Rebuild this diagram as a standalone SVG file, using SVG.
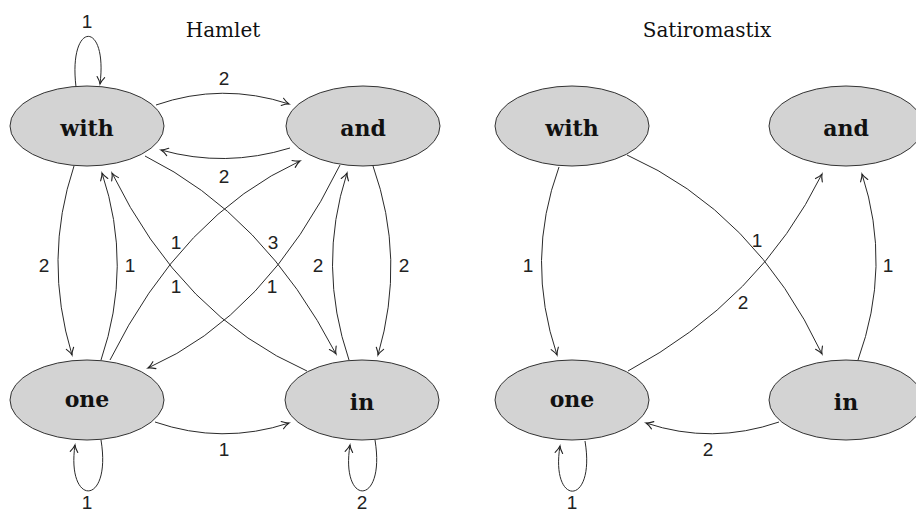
<svg xmlns="http://www.w3.org/2000/svg" width="916" height="513" viewBox="0 0 916 513">
<style>
.e{fill:none;stroke:#2a2a2a;stroke-width:1;marker-end:url(#arr)}
.n ellipse{fill:#d3d3d3;stroke:#333;stroke-width:1}
.n text{font-family:"DejaVu Serif","Liberation Serif",serif;font-weight:bold;font-size:22px;fill:#111;text-anchor:middle}
.t{font-family:"DejaVu Serif","Liberation Serif",serif;font-size:20px;fill:#111;text-anchor:middle}
.l{font-family:"Liberation Sans","Open Sans",sans-serif;font-size:19px;fill:#222;text-anchor:middle}
</style>
<defs>
<marker id="arr" markerUnits="userSpaceOnUse" markerWidth="12" markerHeight="12" refX="0" refY="0" orient="auto" overflow="visible">
<path d="M -7 -3.8 Q -3 -0.8 0 0 Q -3 0.8 -7 3.8" fill="none" stroke="#222" stroke-width="1.1" stroke-linecap="round"/>
</marker>
</defs>
<text class="t" x="223" y="37">Hamlet</text>
<text class="t" x="707" y="37">Satiromastix</text>
<g id="connectors">
<!-- Hamlet -->
<path class="e" d="M 76 87 C 68 20, 108 20, 100 84"/>
<path class="e" d="M 156 105 Q 222 82 289 104"/>
<path class="e" d="M 290 148 Q 225 168 161 150"/>
<path class="e" d="M 74 166 Q 43 259 72 355"/>
<path class="e" d="M 101 360 Q 133 266 102 173"/>
<path class="e" d="M 307 371 Q 182 316 112 173"/>
<path class="e" d="M 110 360 Q 182 215 300 161"/>
<path class="e" d="M 145 156 Q 264 215 336 354"/>
<path class="e" d="M 340 165 Q 266 316 148 368"/>
<path class="e" d="M 349 360 Q 317 266 347 173"/>
<path class="e" d="M 373 166 Q 406 259 378 355"/>
<path class="e" d="M 155 422 Q 222 445 289 423"/>
<path class="e" d="M 101 440 C 112 507, 66 507, 75 445"/>
<path class="e" d="M 375 440 C 386 507, 340 507, 350 445"/>
<!-- Satiromastix -->
<path class="e" d="M 559 167 Q 525 260 557 355"/>
<path class="e" d="M 627 155 Q 755 212 822 354"/>
<path class="e" d="M 628 371 Q 760 300 822 174"/>
<path class="e" d="M 858 360 Q 892 266 862 174"/>
<path class="e" d="M 779 422 Q 712 445 646 423"/>
<path class="e" d="M 585 441 C 596 507, 550 507, 560 446"/>
<!-- labels -->
<text class="l" x="87" y="28">1</text>
<text class="l" x="224" y="85">2</text>
<text class="l" x="224" y="183">2</text>
<text class="l" x="44" y="272">2</text>
<text class="l" x="130" y="272">1</text>
<text class="l" x="176" y="249">1</text>
<text class="l" x="176" y="293">1</text>
<text class="l" x="273" y="249">3</text>
<text class="l" x="272" y="293">1</text>
<text class="l" x="318" y="272">2</text>
<text class="l" x="404" y="272">2</text>
<text class="l" x="224" y="456">1</text>
<text class="l" x="87" y="509">1</text>
<text class="l" x="362" y="509">2</text>
<text class="l" x="528" y="272">1</text>
<text class="l" x="757" y="247">1</text>
<text class="l" x="743" y="309">2</text>
<text class="l" x="888" y="272">1</text>
<text class="l" x="708" y="456">2</text>
<text class="l" x="572" y="509">1</text>
</g>
<g id="h-with" class="n"><ellipse cx="87" cy="126" rx="77" ry="40"/><text x="87" y="136">with</text></g>
<g id="h-and" class="n"><ellipse cx="363" cy="126" rx="77" ry="40"/><text x="363" y="136">and</text></g>
<g id="h-one" class="n"><ellipse cx="87" cy="400" rx="77" ry="40"/><text x="87" y="407">one</text></g>
<g id="h-in" class="n"><ellipse cx="362" cy="400" rx="77" ry="40"/><text x="362" y="410">in</text></g>
<g id="s-with" class="n"><ellipse cx="572" cy="126" rx="77" ry="40"/><text x="572" y="136">with</text></g>
<g id="s-and" class="n"><ellipse cx="846" cy="126" rx="77" ry="40"/><text x="846" y="136">and</text></g>
<g id="s-one" class="n"><ellipse cx="572" cy="400" rx="77" ry="40"/><text x="572" y="407">one</text></g>
<g id="s-in" class="n"><ellipse cx="846" cy="400" rx="77" ry="40"/><text x="846" y="410">in</text></g>
</svg>
